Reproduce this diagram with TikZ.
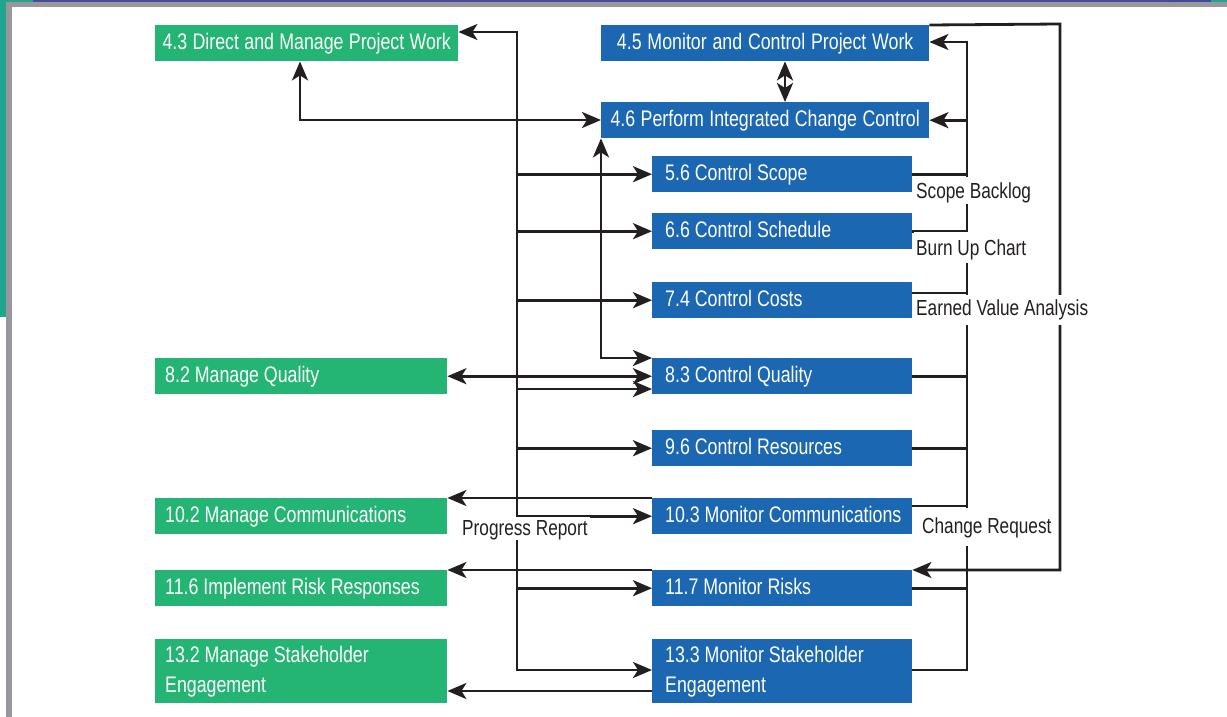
\documentclass[tikz,border=0pt]{standalone}
\usepackage{fontspec}
\setmainfont{Liberation Sans}[FakeStretch=0.79]
\usetikzlibrary{arrows.meta,calc}
\definecolor{pmgreen}{HTML}{24B574}
\definecolor{pmblue}{HTML}{1B67B2}
\definecolor{ink}{HTML}{231F20}
\definecolor{edgeteal}{HTML}{1FA68C}
\definecolor{edgepurple}{HTML}{4A4A9A}
\definecolor{edgepurpleb}{HTML}{3F4C9E}
\definecolor{edgegrey}{HTML}{98989C}
\begin{document}
\begin{tikzpicture}[x=1pt,y=-1pt,
  box/.style={rectangle, anchor=north west, inner ysep=0pt, inner xsep=0pt,
    minimum height=36pt, text=white,
    font=\fontsize{22.5pt}{30pt}\selectfont,
    text height=16.5pt, text depth=4.5pt},
  twoline/.style={minimum height=64pt, text depth=34.5pt},
  greenbox/.style={box, fill=pmgreen, text width=292pt, align=left,
    execute at begin node={\leftskip=10pt\spaceskip=0pt\xspaceskip=0pt\relax}},
  bluebox/.style={box, fill=pmblue, text width=260pt, align=left,
    execute at begin node={\leftskip=13pt\spaceskip=0pt\xspaceskip=0pt\relax}},
  topgreen/.style={box, fill=pmgreen, align=center,
    execute at begin node={\spaceskip=0pt\xspaceskip=0pt\relax}},
  topblue/.style={box, fill=pmblue, align=center,
    execute at begin node={\spaceskip=0pt\xspaceskip=0pt\relax}},
  wire/.style={line width=2.8pt, draw=ink, line join=miter},
  arr/.style={wire, -{Stealth[length=19pt,width=16pt,inset=5pt]}},
  dbl/.style={wire, {Stealth[length=19pt,width=16pt,inset=5pt]}-{Stealth[length=19pt,width=16pt,inset=5pt]}},
  lbl/.style={fill=white, text=ink, font=\fontsize{21.8pt}{26pt}\selectfont,
    inner xsep=2pt, inner ysep=0pt, anchor=base west}
]
\useasboundingbox (0,0) rectangle (1227,717);

% page edge decoration
\fill[edgeteal] (0,0) rectangle (6,317);
\fill[edgeteal] (0,0) rectangle (33,2);
\fill[edgeteal] (1211,0) rectangle (1227,2);
\fill[edgepurple] (33,0) rectangle (1172,2);
\fill[edgepurpleb] (1172,0) rectangle (1211,2);
\fill[edgegrey] (6,2) rectangle (1227,7);
\fill[edgegrey] (6,2) rectangle (12,717);

% process boxes
\node[topgreen, text width=303pt] (d43) at (155,25) {4.3 Direct and Manage Project Work};
\node[topblue, text width=328pt] (m45) at (601,25) {4.5 Monitor and Control Project Work};
\node[topblue, text width=328pt] (ic46) at (601,102) {4.6 Perform Integrated Change Control};

\node[bluebox] (s56)  at (652,156) {5.6 Control Scope};
\node[bluebox] (s66)  at (652,213) {6.6 Control Schedule};
\node[bluebox] (s74)  at (652,282) {7.4 Control Costs};
\node[bluebox] (s83)  at (652,358) {8.3 Control Quality};
\node[bluebox] (s96)  at (652,430) {9.6 Control Resources};
\node[bluebox] (s103) at (652,498) {10.3 Monitor Communications};
\node[bluebox] (s117) at (652,570) {11.7 Monitor Risks};
\node[bluebox, twoline] (s133) at (652,639) {13.3 Monitor Stakeholder\\Engagement};

\node[greenbox] (m82)  at (155,358) {8.2 Manage Quality};
\node[greenbox] (m102) at (155,498) {10.2 Manage Communications};
\node[greenbox] (m116) at (155,570) {11.6 Implement Risk Responses};
\node[greenbox, twoline] (m132) at (155,639) {13.2 Manage Stakeholder\\Engagement};

% bend points
\coordinate (busT) at (517,32);
\coordinate (busB) at (517,670);
\coordinate (c43)  at (300,120);
\coordinate (c45)  at (785,80);
\coordinate (c83)  at (601,358);
\coordinate (q83)  at (517,389);
\coordinate (colT) at (967,42);
\coordinate (colB) at (967,670);
\coordinate (c74)  at (912,293);
\coordinate (c103) at (912,506);
\coordinate (outT) at (1060,24);
\coordinate (outB) at (1060,570);
\coordinate (fb133) at (652,691);

% left distribution bus
\draw[dbl] (busT -| d43.east) -- (busT) -- (busB) -- (busB -| s133.west);
\foreach \n in {s56,s66,s74,s96,s103,s117}
  \draw[arr] (busT |- \n.west) -- (\n.west);
\draw[arr] (q83) -- (q83 -| s83.west);

% links around change control
\draw[dbl] (c43 |- d43.south) -- (c43) -- (c43 -| ic46.west);
\draw[dbl] (c45 |- m45.south) -- (c45 |- ic46.north);
\draw[dbl] (ic46.south west) -- (c83) -- (s83.north west);
\draw[dbl] (m82.east) -- (s83.west);

% feedback to executing processes
\draw[arr] (s103.north west) -- (s103.north west -| m102.east);
\draw[arr] (s117.north west) -- (s117.north west -| m116.east);
\draw[arr] (fb133) -- (fb133 -| m132.east);

% right collector
\draw[arr] (colB -| s133.east) -- (colB) -- (colT) -- (colT -| m45.east);
\draw[arr] (colT |- ic46.east) -- (ic46.east);
\draw[wire] (s56.east) -- (colT |- s56.east);
\draw[wire] (s66.east) -- (colT |- s66.east);
\draw[wire] (c74) -- (colT |- c74);
\draw[wire] (s83.east) -- (colT |- s83.east);
\draw[wire] (s96.east) -- (colT |- s96.east);
\draw[wire] (c103) -- (colT |- c103);
\draw[wire] (s117.east) -- (colT |- s117.east);

% outer loop from 4.5 to 11.7
\draw[arr] (m45.north east) -- (outT) -- (outB) -- (outB -| s117.east);

% flow labels
\node[lbl, text height=21pt, text depth=6pt]    (lsb) at (914,198) {Scope Backlog};
\node[lbl, text height=23pt, text depth=8pt]    (lbu) at (914,255) {Burn Up Chart};
\node[lbl, text height=20.5pt, text depth=10pt] (lev) at (914,315) {Earned Value Analysis};
\node[lbl, text height=25pt, text depth=13pt]   (lcr) at (920,533) {Change Request};
\node[lbl, text height=18pt, text depth=5pt]    (lpr) at (460,535) {Progress Report};
\end{tikzpicture}
\end{document}
